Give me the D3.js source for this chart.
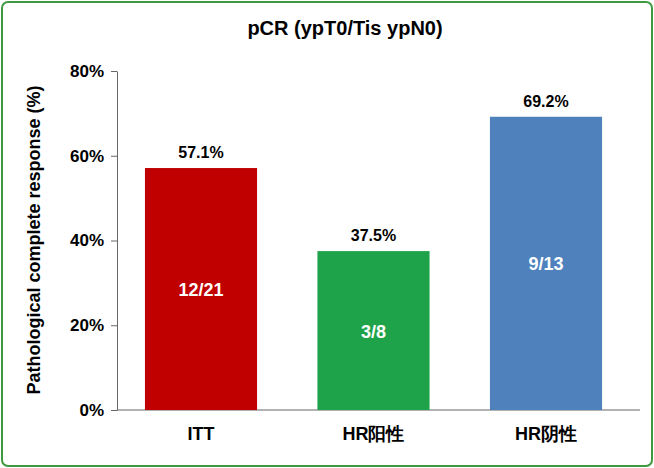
<!DOCTYPE html>
<html><head><meta charset="utf-8">
<script src="https://cdn.jsdelivr.net/npm/d3@7"></script>
<style>body{margin:0;background:#fff}</style>
</head><body><div class="chart"></div>
<script>
var categories = ['ITT', 'HR阳性', 'HR阴性']
var values = [57.1, 37.5, 69.2]
var fractions = ['12/21', '3/8', '9/13']
var colors = ['#c00000', '#1fa34a', '#4f81bd']
var ticks = [0, 20, 40, 60, 80]

const svg = d3.select('.chart').append('svg')
  .attr('width', 654)
  .attr('height', 468)
  .style('font-family', 'Arial, "Liberation Sans", "Noto Sans CJK SC", sans-serif')

svg.append('rect')
  .attr('x', 2).attr('y', 2).attr('width', 650).attr('height', 464)
  .attr('rx', 6).attr('fill', '#fff').attr('stroke', '#3f9a3f').attr('stroke-width', 2)

svg.append('text')
  .attr('x', 345).attr('y', 35).attr('text-anchor', 'middle')
  .attr('font-size', 20).attr('font-weight', 'bold').text('pCR (ypT0/Tis ypN0)')

const y = d3.scaleLinear().domain([0, 80]).range([410, 71])
const x = d3.scaleBand().domain(categories).range([117, 630]).paddingInner(0.35).paddingOuter(0.162)

svg.append('g').attr('transform', 'translate(117,0)')
  .call(d3.axisLeft(y).tickValues(ticks).tickFormat(d => d + '%').tickSize(6).tickSizeOuter(0))
  .call(g => g.selectAll('text').attr('font-size', 17).attr('font-weight', 'bold').attr('fill', '#000').attr('dx', '-4'))
  .call(g => g.selectAll('line, path').attr('stroke', '#666'))

svg.append('g').attr('transform', 'translate(0,410)')
  .call(d3.axisBottom(x).tickSize(0).tickSizeOuter(0))
  .call(g => g.select('path').attr('d', 'M117,0H640').attr('stroke', '#666'))
  .call(g => g.selectAll('text').attr('font-size', 18).attr('font-weight', 'bold').attr('fill', '#000').attr('dy', '1.5em'))

svg.selectAll('rect.bar').data(values).enter().append('rect')
  .attr('class', 'bar')
  .attr('x', (d, i) => x(categories[i]))
  .attr('y', d => y(d))
  .attr('width', x.bandwidth())
  .attr('height', d => 410 - y(d))
  .attr('fill', (d, i) => colors[i])

svg.selectAll('text.val').data(values).enter().append('text')
  .attr('x', (d, i) => x(categories[i]) + x.bandwidth() / 2)
  .attr('y', d => y(d) - 10)
  .attr('text-anchor', 'middle').attr('font-size', 16).attr('font-weight', 'bold')
  .text(d => d.toFixed(1) + '%')

svg.selectAll('text.frac').data(values).enter().append('text')
  .attr('x', (d, i) => x(categories[i]) + x.bandwidth() / 2)
  .attr('y', d => (y(d) + 410) / 2 + 7)
  .attr('text-anchor', 'middle').attr('font-size', 18).attr('font-weight', 'bold').attr('fill', '#fff')
  .text((d, i) => fractions[i])

svg.append('text')
  .attr('transform', 'translate(40,240) rotate(-90)')
  .attr('text-anchor', 'middle').attr('font-size', 18).attr('font-weight', 'bold')
  .text('Pathological complete response (%)')
</script></body></html>
